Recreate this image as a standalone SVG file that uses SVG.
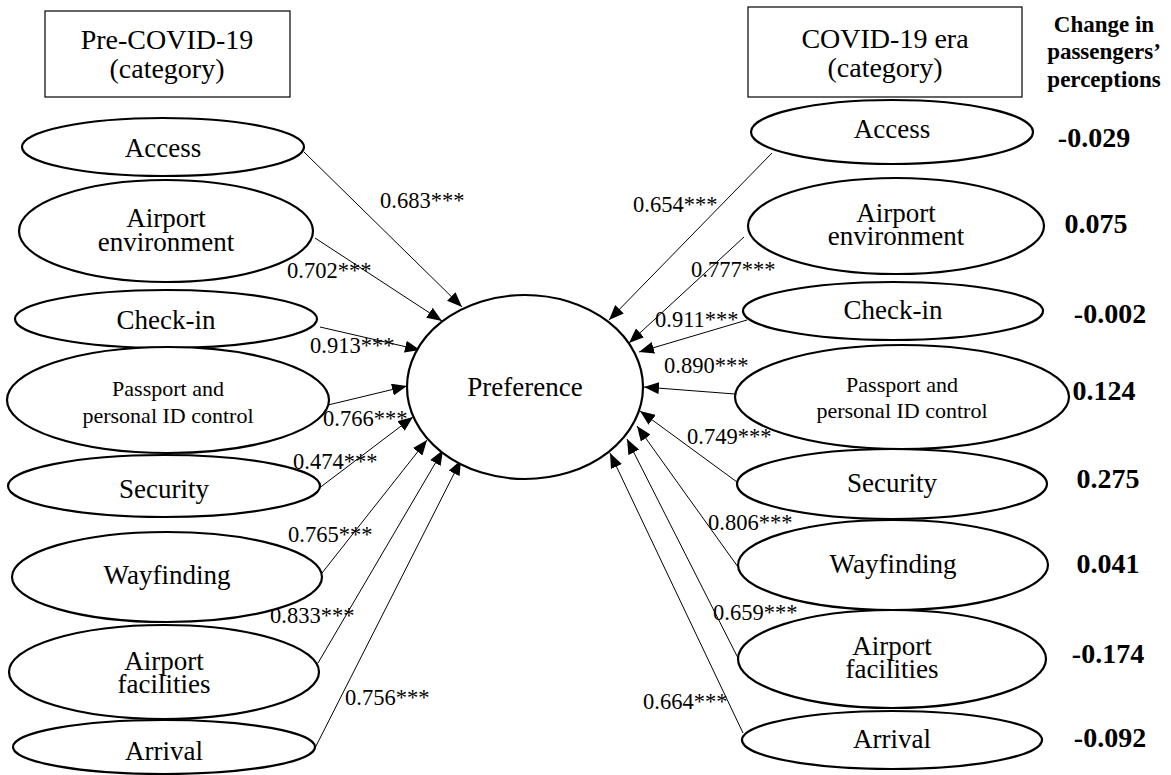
<svg xmlns="http://www.w3.org/2000/svg" width="1171" height="775" viewBox="0 0 1171 775">
<defs>
<marker id="arr" markerUnits="userSpaceOnUse" markerWidth="16" markerHeight="12" refX="15" refY="6" orient="auto">
<path d="M0,0 L15,6 L0,12 z" fill="#000"/>
</marker>
<style>
.e{fill:#fff;stroke:#000;stroke-width:2.2}
.b{fill:#fff;stroke:#000;stroke-width:1.2}
.c{stroke:#000;stroke-width:1;fill:none;marker-end:url(#arr)}
text{font-family:"Liberation Serif","Times New Roman",serif;fill:#000}
.t{font-size:27px;text-anchor:middle}
.s{font-size:22px;text-anchor:middle}
.h{font-size:28px;text-anchor:middle}
.l{font-size:22.5px}
.v{font-size:28px;font-weight:bold;text-anchor:middle}
.hd{font-size:23px;font-weight:bold;text-anchor:middle}
</style>
</defs>
<rect width="1171" height="775" fill="#fff"/>

<g id="connectors">
<line class="c" x1="304" y1="152" x2="462" y2="307"/>
<line class="c" x1="315" y1="238" x2="442" y2="321"/>
<line class="c" x1="320" y1="327" x2="420" y2="350"/>
<line class="c" x1="328" y1="405" x2="407" y2="386"/>
<line class="c" x1="318" y1="489" x2="413" y2="417"/>
<line class="c" x1="322" y1="573" x2="427" y2="440"/>
<line class="c" x1="318" y1="663" x2="443" y2="450"/>
<line class="c" x1="315" y1="748" x2="461" y2="460"/>
<line class="c" x1="772" y1="153" x2="609" y2="320"/>
<line class="c" x1="744" y1="237" x2="629" y2="343"/>
<line class="c" x1="747" y1="320" x2="639" y2="352"/>
<line class="c" x1="735" y1="394" x2="644" y2="387"/>
<line class="c" x1="737" y1="482" x2="640" y2="411"/>
<line class="c" x1="738" y1="567" x2="637" y2="426"/>
<line class="c" x1="738" y1="658" x2="627" y2="439"/>
<line class="c" x1="743" y1="733" x2="610" y2="453"/>
<text class="l" x="380" y="208">0.683***</text>
<text class="l" x="287" y="278">0.702***</text>
<text class="l" x="310" y="353">0.913***</text>
<text class="l" x="323" y="426">0.766***</text>
<text class="l" x="293" y="469">0.474***</text>
<text class="l" x="288" y="542">0.765***</text>
<text class="l" x="270" y="623">0.833***</text>
<text class="l" x="345" y="705">0.756***</text>
<text class="l" x="633" y="212">0.654***</text>
<text class="l" x="691" y="277">0.777***</text>
<text class="l" x="655" y="327">0.911***</text>
<text class="l" x="664" y="373">0.890***</text>
<text class="l" x="687" y="444">0.749***</text>
<text class="l" x="708" y="530">0.806***</text>
<text class="l" x="713" y="620">0.659***</text>
<text class="l" x="643" y="709">0.664***</text>
</g>

<g id="pre-title">
<rect class="b" x="45" y="11" width="245" height="86"/>
<text class="h" x="167" y="49">Pre-COVID-19</text>
<text class="h" x="167" y="78">(category)</text>
</g>
<g id="covid-title">
<rect class="b" x="748" y="7" width="274" height="90"/>
<text class="h" x="885" y="48">COVID-19 era</text>
<text class="h" x="885" y="77">(category)</text>
</g>
<g id="change-header">
<text class="hd" x="1104" y="32">Change in</text>
<text class="hd" x="1104" y="59">passengers’</text>
<text class="hd" x="1104" y="87">perceptions</text>
</g>

<g id="preference">
<ellipse class="e" cx="525" cy="387" rx="118" ry="92"/>
<text class="t" x="525" y="396">Preference</text>
</g>

<g id="pre-access"><ellipse class="e" cx="163" cy="147" rx="141" ry="29"/><text class="t" x="163" y="157">Access</text></g>
<g id="pre-environment"><ellipse class="e" cx="166" cy="231" rx="147" ry="51"/><text class="t" x="166" y="227">Airport</text><text class="t" x="166" y="251">environment</text></g>
<g id="pre-checkin"><ellipse class="e" cx="166" cy="319" rx="151" ry="29"/><text class="t" x="166" y="329">Check-in</text></g>
<g id="pre-passport"><ellipse class="e" cx="168" cy="400" rx="161" ry="53"/><text class="s" x="168" y="396">Passport and</text><text class="s" x="168" y="423">personal ID control</text></g>
<g id="pre-security"><ellipse class="e" cx="164" cy="486" rx="156" ry="31"/><text class="t" x="164" y="498">Security</text></g>
<g id="pre-wayfinding"><ellipse class="e" cx="167" cy="577" rx="155" ry="45"/><text class="t" x="167" y="584">Wayfinding</text></g>
<g id="pre-facilities"><ellipse class="e" cx="164" cy="672" rx="155" ry="47"/><text class="t" x="164" y="670">Airport</text><text class="t" x="164" y="693">facilities</text></g>
<g id="pre-arrival"><ellipse class="e" cx="164" cy="747" rx="151" ry="27"/><text class="t" x="164" y="760">Arrival</text></g>

<g id="post-access"><ellipse class="e" cx="892" cy="132" rx="141" ry="32"/><text class="t" x="892" y="138">Access</text></g>
<g id="post-environment"><ellipse class="e" cx="896" cy="226" rx="148" ry="48"/><text class="t" x="896" y="222">Airport</text><text class="t" x="896" y="245">environment</text></g>
<g id="post-checkin"><ellipse class="e" cx="893" cy="311" rx="150" ry="29"/><text class="t" x="893" y="319">Check-in</text></g>
<g id="post-passport"><ellipse class="e" cx="902" cy="397" rx="167" ry="52"/><text class="s" x="902" y="392">Passport and</text><text class="s" x="902" y="418">personal ID control</text></g>
<g id="post-security"><ellipse class="e" cx="892" cy="484" rx="155" ry="35"/><text class="t" x="892" y="492">Security</text></g>
<g id="post-wayfinding"><ellipse class="e" cx="893" cy="565" rx="155" ry="45"/><text class="t" x="893" y="573">Wayfinding</text></g>
<g id="post-facilities"><ellipse class="e" cx="892" cy="659" rx="154" ry="49"/><text class="t" x="892" y="655">Airport</text><text class="t" x="892" y="678">facilities</text></g>
<g id="post-arrival"><ellipse class="e" cx="892" cy="740" rx="150" ry="29"/><text class="t" x="892" y="748">Arrival</text></g>

<g id="changes">
<text class="v" x="1094" y="147">-0.029</text>
<text class="v" x="1096" y="233">0.075</text>
<text class="v" x="1110" y="323">-0.002</text>
<text class="v" x="1104" y="400">0.124</text>
<text class="v" x="1108" y="488">0.275</text>
<text class="v" x="1108" y="573">0.041</text>
<text class="v" x="1108" y="663">-0.174</text>
<text class="v" x="1110" y="747">-0.092</text>
</g>
</svg>
